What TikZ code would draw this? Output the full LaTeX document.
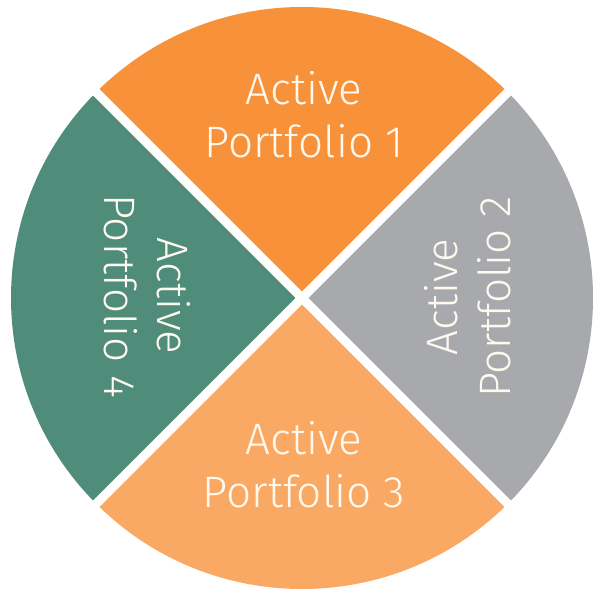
\documentclass[tikz,border=0pt]{standalone}
\usepackage{fontspec}
\usetikzlibrary{calc}
\setmainfont{Fira Sans Light}
\definecolor{wOrange}{HTML}{F7923A}
\definecolor{wGray}{HTML}{A7A9AC}
\definecolor{wLight}{HTML}{F9A964}
\definecolor{wTeal}{HTML}{4F8C7A}
\definecolor{wText}{HTML}{FFF9EF}
\begin{document}
\begin{tikzpicture}[x=1pt,y=1pt,
  lbl/.style={text=wText,font=\fontsize{44}{53}\selectfont,align=center,inner sep=0pt},
  divider/.style={draw=white,line width=9pt}]
\useasboundingbox (0,0) rectangle (593,592);
\fill[white] (0,0) rectangle (593,592);
\coordinate (c) at (302,294);
\def\R{291}
\fill[wOrange] (c) -- ++(45:\R) arc[start angle=45,end angle=135,radius=\R] -- cycle;
\fill[wTeal] (c) -- ++(135:\R) arc[start angle=135,end angle=225,radius=\R] -- cycle;
\fill[wLight] (c) -- ++(225:\R) arc[start angle=225,end angle=315,radius=\R] -- cycle;
\fill[wGray] (c) -- ++(315:\R) arc[start angle=315,end angle=405,radius=\R] -- cycle;
\coordinate (d1) at ($(c)+(45:\R+5)$);
\coordinate (d2) at ($(c)+(135:\R+5)$);
\coordinate (d3) at ($(c)+(225:\R+5)$);
\coordinate (d4) at ($(c)+(315:\R+5)$);
\draw[divider] (d1) -- (d3);
\draw[divider] (d2) -- (d4);
\node[lbl] (p1) at (304,477) {Active\\Portfolio 1};
\node[lbl] (p3) at (304,127) {Active\\Portfolio 3};
\node[lbl,rotate=90] (p2) at (468,295) {Active\\Portfolio 2};
\node[lbl,rotate=-90] (p4) at (147,296) {Active\\Portfolio 4};
\end{tikzpicture}
\end{document}
